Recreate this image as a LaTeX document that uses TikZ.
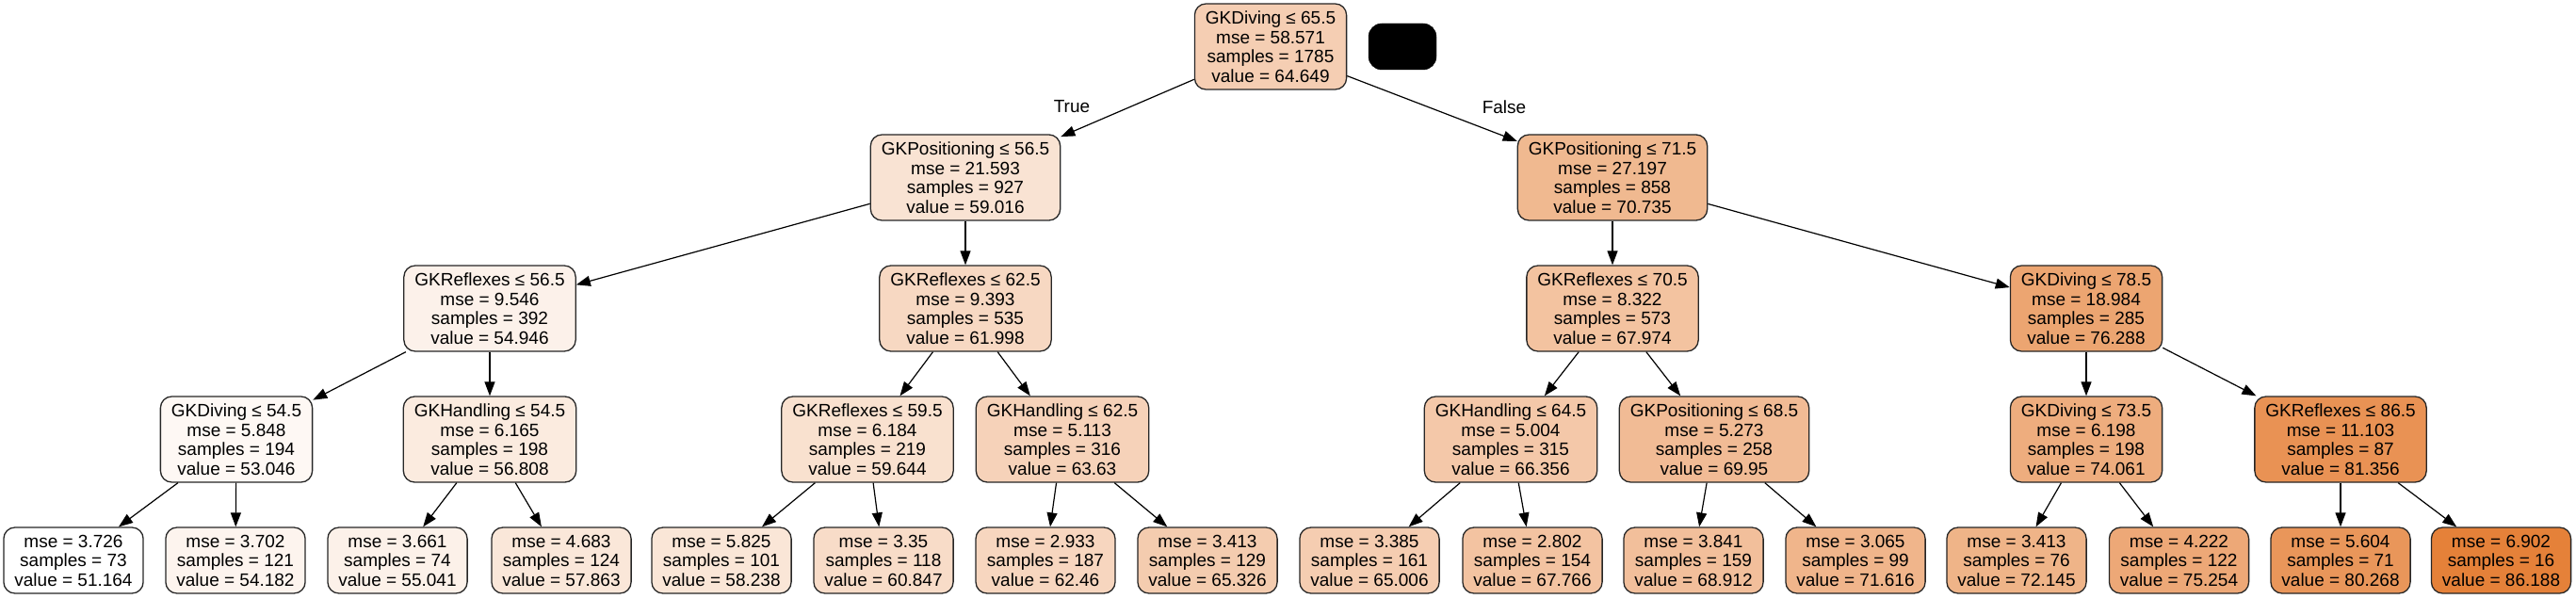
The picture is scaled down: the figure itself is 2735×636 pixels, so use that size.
\documentclass[tikz,border=0pt]{standalone}
\usepackage{fontspec}
\setmainfont{Liberation Sans}
\usetikzlibrary{arrows.meta}
\definecolor{dtorange}{RGB}{229,129,57}
\begin{document}
\begin{tikzpicture}[x=1pt,y=-1pt,
  tnode/.style={draw=black!85, line width=1.3pt, rounded corners=12pt, align=center,
    inner xsep=11.5pt, inner ysep=0pt, font=\fontsize{19}{20.5}\selectfont},
  inode/.style={tnode, minimum height=91pt},
  leaf/.style={tnode, minimum height=70pt, minimum width=148pt},
  edge/.style={-{Triangle[length=15pt,width=11pt]}, line width=1.2pt, black},
  lbl/.style={font=\fontsize{19}{20.5}\selectfont}
]
\useasboundingbox (0,0) rectangle (2735,636);

% level 0
\node[inode, fill=dtorange!38.5!white] (r) at (1349,49.5) {GKDiving ≤ 65.5\\mse = 58.571\\samples = 1785\\value = 64.649};
\node[draw=black, fill=black, rounded corners=14pt, minimum width=72pt, minimum height=49pt] (blk) at (1489,49.5) {};

% level 1
\node[inode, fill=dtorange!22.4!white] (a) at (1025,188.5) {GKPositioning ≤ 56.5\\mse = 21.593\\samples = 927\\value = 59.016};
\node[inode, fill=dtorange!55.9!white] (b) at (1712,188.5) {GKPositioning ≤ 71.5\\mse = 27.197\\samples = 858\\value = 70.735};

% level 2
\node[inode, fill=dtorange!10.8!white] (aa) at (520,327.5) {GKReflexes ≤ 56.5\\mse = 9.546\\samples = 392\\value = 54.946};
\node[inode, fill=dtorange!30.9!white] (ab) at (1025,327.5) {GKReflexes ≤ 62.5\\mse = 9.393\\samples = 535\\value = 61.998};
\node[inode, fill=dtorange!48.0!white] (ba) at (1712,327.5) {GKReflexes ≤ 70.5\\mse = 8.322\\samples = 573\\value = 67.974};
\node[inode, fill=dtorange!71.7!white] (bb) at (2215,327.5) {GKDiving ≤ 78.5\\mse = 18.984\\samples = 285\\value = 76.288};

% level 3
\node[inode, fill=dtorange!5.4!white] (aaa) at (251,466.5) {GKDiving ≤ 54.5\\mse = 5.848\\samples = 194\\value = 53.046};
\node[inode, fill=dtorange!16.1!white] (aab) at (520,466.5) {GKHandling ≤ 54.5\\mse = 6.165\\samples = 198\\value = 56.808};
\node[inode, fill=dtorange!24.2!white] (aba) at (921,466.5) {GKReflexes ≤ 59.5\\mse = 6.184\\samples = 219\\value = 59.644};
\node[inode, fill=dtorange!35.6!white] (abb) at (1128,466.5) {GKHandling ≤ 62.5\\mse = 5.113\\samples = 316\\value = 63.63};
\node[inode, fill=dtorange!43.4!white] (baa) at (1604,466.5) {GKHandling ≤ 64.5\\mse = 5.004\\samples = 315\\value = 66.356};
\node[inode, fill=dtorange!53.6!white] (bab) at (1820,466.5) {GKPositioning ≤ 68.5\\mse = 5.273\\samples = 258\\value = 69.95};
\node[inode, fill=dtorange!65.4!white] (bba) at (2215,466.5) {GKDiving ≤ 73.5\\mse = 6.198\\samples = 198\\value = 74.061};
\node[inode, fill=dtorange!86.2!white] (bbb) at (2485,466.5) {GKReflexes ≤ 86.5\\mse = 11.103\\samples = 87\\value = 81.356};

% level 4 (leaves)
\node[leaf, fill=white] (l0) at (78,595) {mse = 3.726\\samples = 73\\value = 51.164};
\node[leaf, fill=dtorange!8.6!white] (l1) at (250,595) {mse = 3.702\\samples = 121\\value = 54.182};
\node[leaf, fill=dtorange!11.1!white] (l2) at (422,595) {mse = 3.661\\samples = 74\\value = 55.041};
\node[leaf, fill=dtorange!19.1!white] (l3) at (596,595) {mse = 4.683\\samples = 124\\value = 57.863};
\node[leaf, fill=dtorange!20.2!white] (l4) at (766,595) {mse = 5.825\\samples = 101\\value = 58.238};
\node[leaf, fill=dtorange!27.6!white] (l5) at (938,595) {mse = 3.35\\samples = 118\\value = 60.847};
\node[leaf, fill=dtorange!32.3!white] (l6) at (1110,595) {mse = 2.933\\samples = 187\\value = 62.46};
\node[leaf, fill=dtorange!40.4!white] (l7) at (1282,595) {mse = 3.413\\samples = 129\\value = 65.326};
\node[leaf, fill=dtorange!39.5!white] (l8) at (1454,595) {mse = 3.385\\samples = 161\\value = 65.006};
\node[leaf, fill=dtorange!47.4!white] (l9) at (1627,595) {mse = 2.802\\samples = 154\\value = 67.766};
\node[leaf, fill=dtorange!50.7!white] (l10) at (1798,595) {mse = 3.841\\samples = 159\\value = 68.912};
\node[leaf, fill=dtorange!58.4!white] (l11) at (1970,595) {mse = 3.065\\samples = 99\\value = 71.616};
\node[leaf, fill=dtorange!59.9!white] (l12) at (2141,595) {mse = 3.413\\samples = 76\\value = 72.145};
\node[leaf, fill=dtorange!68.8!white] (l13) at (2313.5,595) {mse = 4.222\\samples = 122\\value = 75.254};
\node[leaf, fill=dtorange!83.1!white] (l14) at (2485,595) {mse = 5.604\\samples = 71\\value = 80.268};
\node[leaf, fill=dtorange] (l15) at (2655.5,595) {mse = 6.902\\samples = 16\\value = 86.188};

% edge labels
\node[lbl] (ltrue) at (1138,113) {True};
\node[lbl] (lfalse) at (1597,114) {False};

% edges
\draw[edge] (r) -- (a);
\draw[edge] (r) -- (b);
\draw[edge] (a) -- (aa);
\draw[edge] (a) -- (ab);
\draw[edge] (b) -- (ba);
\draw[edge] (b) -- (bb);
\draw[edge] (aa) -- (aaa);
\draw[edge] (aa) -- (aab);
\draw[edge] (ab) -- (aba);
\draw[edge] (ab) -- (abb);
\draw[edge] (ba) -- (baa);
\draw[edge] (ba) -- (bab);
\draw[edge] (bb) -- (bba);
\draw[edge] (bb) -- (bbb);
\draw[edge] (aaa) -- (l0);
\draw[edge] (aaa) -- (l1);
\draw[edge] (aab) -- (l2);
\draw[edge] (aab) -- (l3);
\draw[edge] (aba) -- (l4);
\draw[edge] (aba) -- (l5);
\draw[edge] (abb) -- (l6);
\draw[edge] (abb) -- (l7);
\draw[edge] (baa) -- (l8);
\draw[edge] (baa) -- (l9);
\draw[edge] (bab) -- (l10);
\draw[edge] (bab) -- (l11);
\draw[edge] (bba) -- (l12);
\draw[edge] (bba) -- (l13);
\draw[edge] (bbb) -- (l14);
\draw[edge] (bbb) -- (l15);
\end{tikzpicture}
\end{document}
